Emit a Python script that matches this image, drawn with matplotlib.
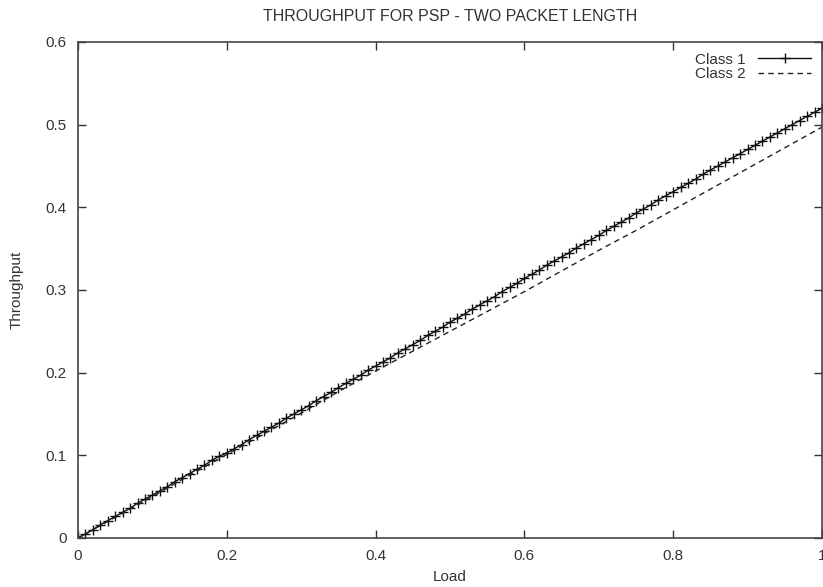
import numpy as np
import matplotlib
matplotlib.use("Agg")
import matplotlib.pyplot as plt

plt.rcParams['font.family'] = ['Liberation Sans', 'DejaVu Sans']

# Class 1: sampled every 0.01 of load (markers at each point)
load_1 = np.arange(0, 101) / 100
class_1 = [0.000, 0.005, 0.010, 0.016, 0.021, 0.026, 0.031, 0.036, 0.042, 0.047,
           0.052, 0.057, 0.062, 0.068, 0.073, 0.078, 0.083, 0.088, 0.094, 0.099,
           0.103, 0.108, 0.113, 0.119, 0.124, 0.129, 0.134, 0.139, 0.145, 0.150,
           0.155, 0.160, 0.166, 0.171, 0.176, 0.182, 0.187, 0.192, 0.197, 0.203,
           0.208, 0.213, 0.218, 0.224, 0.229, 0.234, 0.239, 0.245, 0.250, 0.255,
           0.261, 0.266, 0.271, 0.277, 0.282, 0.287, 0.292, 0.298, 0.303, 0.308,
           0.314, 0.319, 0.324, 0.330, 0.335, 0.340, 0.345, 0.351, 0.356, 0.361,
           0.366, 0.372, 0.377, 0.382, 0.387, 0.393, 0.398, 0.403, 0.409, 0.414,
           0.419, 0.424, 0.429, 0.434, 0.440, 0.445, 0.450, 0.455, 0.460, 0.465,
           0.470, 0.475, 0.480, 0.485, 0.490, 0.495, 0.500, 0.505, 0.510, 0.515,
           0.520]

# Class 2: dashed, no markers
load_2 = [0.0, 0.05, 0.1, 0.15, 0.2, 0.25, 0.3, 0.35, 0.4, 0.45, 0.5,
          0.55, 0.6, 0.65, 0.7, 0.75, 0.8, 0.85, 0.9, 0.95, 1.0]
class_2 = [0.000, 0.025, 0.050, 0.076, 0.101, 0.126, 0.151, 0.177, 0.202, 0.226, 0.250,
           0.274, 0.298, 0.323, 0.348, 0.372, 0.397, 0.422, 0.447, 0.472, 0.497]

x_ticks = [0, 0.2, 0.4, 0.6, 0.8, 1]
x_labels = ['0', '0.2', '0.4', '0.6', '0.8', '1']
y_ticks = [0, 0.1, 0.2, 0.3, 0.4, 0.5, 0.6]
y_labels = ['0', '0.1', '0.2', '0.3', '0.4', '0.5', '0.6']

fig = plt.figure(figsize=(8.23, 5.87), dpi=100)
ax = fig.add_axes([0.0948, 0.0835, 0.9040, 0.845])

ax.plot(load_1, class_1, color='#111111', lw=1.0, marker='+', ms=7, mew=1.0,
        label='Class 1')
ax.plot(load_2, class_2, color='#222222', lw=1.0, ls=(0, (4, 3)), label='Class 2')

ax.set_xlim(0, 1)
ax.set_ylim(0, 0.6)
ax.set_xticks(x_ticks)
ax.set_xticklabels(x_labels)
ax.set_yticks(y_ticks)
ax.set_yticklabels(y_labels)
ax.tick_params(direction='in', length=6, width=1, top=True, right=True,
               labelsize=11, colors='#333333', pad=8)
for s in ax.spines.values():
    s.set_color('#444444')
    s.set_linewidth(1.2)

ax.set_xlabel('Load', fontsize=11, color='#333333', labelpad=5)
ax.set_ylabel('Throughput', fontsize=11, color='#333333', labelpad=16)
ax.set_title('THROUGHPUT FOR PSP - TWO PACKET LENGTH', fontsize=11.5,
             color='#333333', pad=15)

leg = ax.legend(loc='upper right', frameon=False, markerfirst=False,
                handlelength=3.5, fontsize=11, labelspacing=0.05,
                borderaxespad=0.3, handletextpad=0.8)
for t in leg.get_texts():
    t.set_color('#333333')

fig.savefig('out.png', dpi=100)
